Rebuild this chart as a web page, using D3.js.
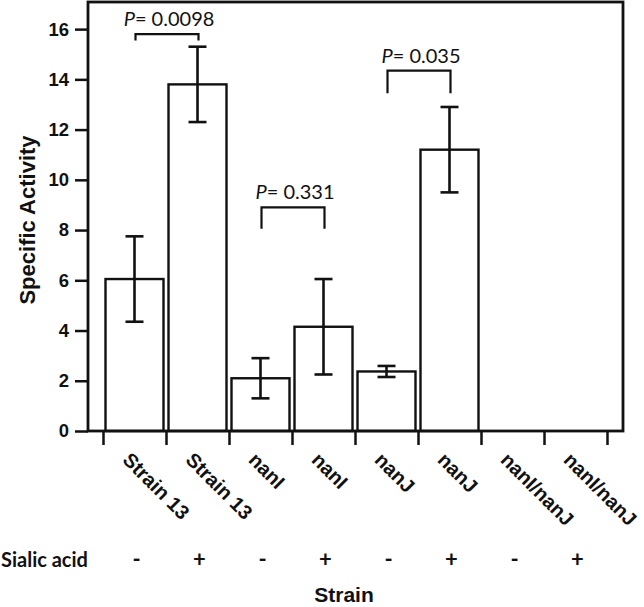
<!DOCTYPE html>
<html>
<head>
<meta charset="utf-8">
<script src="https://cdn.jsdelivr.net/npm/d3@7"></script>
<style>
  body { margin: 0; background: #fff; }
  svg { display: block; }
  .tick text { font-family: Arial, "Liberation Sans", sans-serif; font-weight: bold; }
</style>
</head>
<body>
<div id="chart"></div>
<script>
// data
const strains = ['Strain 13', 'Strain 13', 'nanI', 'nanI', 'nanJ', 'nanJ', 'nanI/nanJ', 'nanI/nanJ'];
const sialic = ['-', '+', '-', '+', '-', '+', '-', '+'];
const activity = [6.05, 13.8, 2.1, 4.15, 2.37, 11.2, 0, 0];
const errors = [1.7, 1.5, 0.8, 1.9, 0.22, 1.7, 0, 0];
const yTicks = [0, 2, 4, 6, 8, 10, 12, 14, 16];
// p-value brackets: bar index pairs, bracket top and leg end (activity units)
const pLabels = ['0.0098', '0.331', '0.035'];
const pPairs = [[0, 1], [2, 3], [4, 5]];
const pTop = [15.8, 8.9, 14.35];
const pLeg = [15.55, 8.05, 13.45];

const W = 644, H = 607;
const margin = { top: 4, bottom: 176, left: 88, right: 21 };
const plotL = margin.left, plotR = W - margin.right;
const plotB = H - margin.bottom;

const svg = d3.select('#chart').append('svg')
  .attr('width', W)
  .attr('height', H);

const idx = d3.range(strains.length);

// scales
const x = d3.scaleBand().domain(idx).range([103, 607]).padding(0);
const xEdge = d3.scaleLinear().domain([0, strains.length]).range([103, 607]);
const y = d3.scaleLinear().domain([0, 17]).range([plotB, margin.top]);

// y axis
svg.append('g')
  .attr('class', 'axis axis-y')
  .attr('transform', `translate(${plotL},0)`)
  .call(d3.axisLeft(y).tickValues(yTicks).tickSize(13).tickPadding(6))
  .call(g => g.select('.domain').remove())
  .call(g => g.selectAll('.tick line').attr('stroke', '#111').attr('stroke-width', 2.5))
  .call(g => g.selectAll('.tick text').attr('fill', '#111').style('font-size', '18.5px'));

// x axis ticks at band edges
svg.append('g')
  .attr('class', 'axis axis-x')
  .attr('transform', `translate(0,${plotB})`)
  .call(d3.axisBottom(xEdge).tickValues(d3.range(strains.length + 1)).tickSize(14).tickFormat(''))
  .call(g => g.select('.domain').remove())
  .call(g => g.selectAll('.tick line').attr('stroke', '#111').attr('stroke-width', 2.5));

// bars
const inset = 2.5;
svg.append('g').attr('class', 'bars')
  .selectAll('rect')
  .data(idx.filter(i => activity[i] > 0))
  .enter().append('rect')
  .attr('x', i => x(i) + inset)
  .attr('y', i => y(activity[i]))
  .attr('width', x.bandwidth() - inset * 2)
  .attr('height', i => y(0) - y(activity[i]))
  .attr('fill', '#fff')
  .attr('stroke', '#111')
  .attr('stroke-width', 2.4);

// error bars
const cap = 9;
const eb = svg.append('g').attr('class', 'errors')
  .selectAll('g')
  .data(idx.filter(i => errors[i] > 0))
  .enter().append('g')
  .attr('stroke', '#111')
  .attr('stroke-width', 2.6);
const cx = i => x(i) + x.bandwidth() / 2;
eb.append('line')
  .attr('x1', cx).attr('x2', cx)
  .attr('y1', i => y(activity[i] + errors[i]))
  .attr('y2', i => y(activity[i] - errors[i]));
eb.append('line')
  .attr('x1', i => cx(i) - cap).attr('x2', i => cx(i) + cap)
  .attr('y1', i => y(activity[i] + errors[i])).attr('y2', i => y(activity[i] + errors[i]));
eb.append('line')
  .attr('x1', i => cx(i) - cap).attr('x2', i => cx(i) + cap)
  .attr('y1', i => y(activity[i] - errors[i])).attr('y2', i => y(activity[i] - errors[i]));

// frame
svg.append('rect')
  .attr('x', plotL).attr('y', 2)
  .attr('width', plotR - plotL).attr('height', plotB - 2)
  .attr('fill', 'none')
  .attr('stroke', '#111')
  .attr('stroke-width', 2.8);

// p-value brackets
const br = svg.append('g').attr('class', 'brackets')
  .selectAll('g')
  .data(d3.range(pLabels.length))
  .enter().append('g');
br.append('path')
  .attr('d', k => {
    const a = cx(pPairs[k][0]) + 1, b = cx(pPairs[k][1]) + 1;
    return `M${a},${y(pLeg[k])}V${y(pTop[k])}H${b}V${y(pLeg[k])}`;
  })
  .attr('fill', 'none')
  .attr('stroke', '#111')
  .attr('stroke-width', 2.2);
const pt = br.append('text')
  .attr('x', k => (cx(pPairs[k][0]) + cx(pPairs[k][1])) / 2 + 3)
  .attr('y', k => y(pTop[k]) - 8)
  .attr('text-anchor', 'middle')
  .style('font-family', 'Lato, "Open Sans", sans-serif')
  .style('font-size', '20px')
  .attr('fill', '#111');
pt.append('tspan').style('font-style', 'italic').text('P');
pt.append('tspan').text(k => '= ' + pLabels[k]);

// strain labels, rotated
svg.append('g').attr('class', 'xlabels')
  .selectAll('text')
  .data(idx)
  .enter().append('text')
  .attr('transform', i => `translate(${cx(i) - 3},${plotB + 20}) rotate(45)`)
  .attr('dy', '0.71em')
  .style('font-family', 'Arial, "Liberation Sans", sans-serif')
  .style('font-weight', 'bold')
  .style('font-size', '20px')
  .attr('fill', '#111')
  .text(i => strains[i]);

// sialic acid row
const rowY = 567;
svg.append('text')
  .attr('x', 1).attr('y', rowY)
  .style('font-family', 'Lato, "Open Sans", sans-serif')
  .style('font-weight', 'bold')
  .style('font-size', '20px')
  .attr('fill', '#111')
  .text('Sialic acid');
svg.append('g').attr('class', 'signs')
  .selectAll('text')
  .data(idx)
  .enter().append('text')
  .attr('x', i => cx(i) + 2)
  .attr('y', rowY)
  .attr('text-anchor', 'middle')
  .style('font-family', 'Lato, "Open Sans", sans-serif')
  .style('font-weight', 'bold')
  .style('font-size', '22px')
  .attr('fill', '#111')
  .text(i => sialic[i]);

// axis titles
svg.append('text')
  .attr('x', 344).attr('y', 602)
  .attr('text-anchor', 'middle')
  .style('font-family', 'Arial, "Liberation Sans", sans-serif')
  .style('font-weight', 'bold')
  .style('font-size', '21px')
  .attr('fill', '#111')
  .text('Strain');
svg.append('text')
  .attr('transform', `translate(35,${220}) rotate(-90)`)
  .attr('text-anchor', 'middle')
  .style('font-family', 'Arial, "Liberation Sans", sans-serif')
  .style('font-weight', 'bold')
  .style('font-size', '22px')
  .attr('fill', '#111')
  .text('Specific Activity');
</script>
</body>
</html>
